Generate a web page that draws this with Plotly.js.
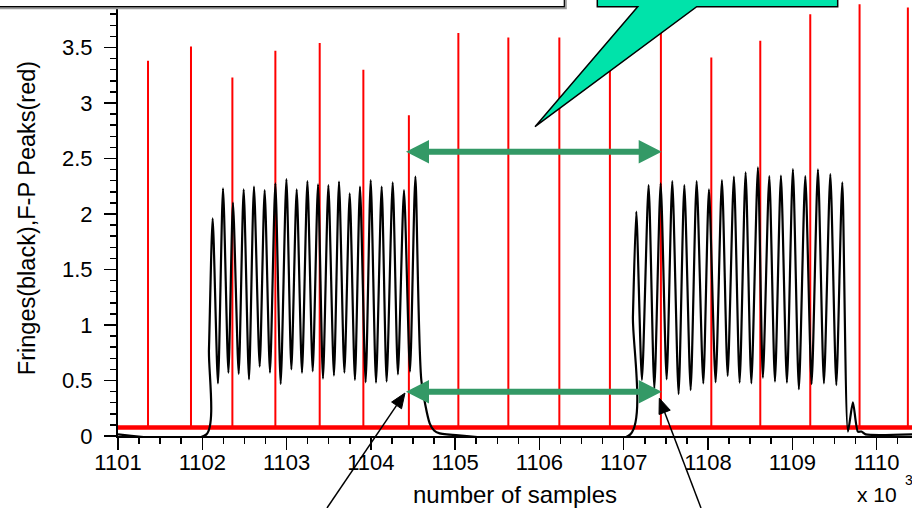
<!DOCTYPE html>
<html>
<head>
<meta charset="utf-8">
<script src="https://cdn.plot.ly/plotly-3.0.1.min.js"></script>
<style>
  html, body { margin: 0; padding: 0; background: #ffffff; }
  #chart { width: 912px; height: 508px; }
</style>
</head>
<body>
<div id="chart"></div>
<script>
// ---------- DATA (x in thousands of samples) ----------
const peakX = [1101.356, 1101.866, 1102.357, 1102.867, 1103.393, 1103.911, 1104.451,
               1105.038, 1105.631, 1106.236, 1106.836, 1107.441, 1108.039, 1108.620,
               1109.213, 1109.798, 1110.371];
const peakH = [3.38, 3.51, 3.23, 3.47, 3.54, 3.30, 2.89,
               3.63, 3.59, 3.59, 3.55, 3.75, 3.41, 3.56,
               3.80, 3.89, 3.86];
const redBaseline = 0.077;

const fringeX = [
  1101.000, 1102.049, 1102.079,
  1102.123, 1102.186, 1102.246, 1102.310, 1102.364, 1102.432, 1102.491, 1102.554,
  1102.613, 1102.681, 1102.740, 1102.803, 1102.867, 1102.930, 1102.998, 1103.057,
  1103.120, 1103.183, 1103.247, 1103.310, 1103.373, 1103.432, 1103.496, 1103.562,
  1103.622, 1103.686, 1103.749, 1103.811, 1103.871, 1103.938, 1103.998, 1104.061,
  1104.128, 1104.187, 1104.259, 1104.321, 1104.393, 1104.464, 1104.528,
  1104.599, 1104.698, 1104.750, 1104.816, 1104.900,
  1107.078, 1107.109,
  1107.149, 1107.216, 1107.295, 1107.363, 1107.438, 1107.509, 1107.576, 1107.651,
  1107.719, 1107.794, 1107.865, 1107.944, 1108.011, 1108.090, 1108.165, 1108.233,
  1108.307, 1108.375, 1108.446, 1108.514, 1108.592, 1108.651, 1108.727, 1108.794,
  1108.865, 1108.936, 1109.007, 1109.078, 1109.154, 1109.229, 1109.304, 1109.375,
  1109.451, 1109.522, 1109.593,
  1109.660, 1109.719, 1109.778, 1109.820, 1109.870, 1110.420
];
const fringeY = [
  0.015, 0.015, 0.775,
  1.961, 0.474, 2.231, 0.570, 2.102, 0.559, 2.222, 0.511,
  2.246, 0.625, 2.216, 0.570, 2.276, 0.468, 2.315, 0.601,
  2.222, 0.570, 2.297, 0.583, 2.267, 0.517, 2.261, 0.544,
  2.291, 0.570, 2.186, 0.505, 2.246, 0.484, 2.306, 0.481,
  2.246, 0.490, 2.285, 0.556, 2.216, 0.580, 2.336,
  0.500, 0.114, 0.050, 0.024, 0.015,
  0.015, 1.075,
  2.021, 0.505, 2.261, 0.430, 2.276, 0.511, 2.297, 0.378,
  2.261, 0.414, 2.297, 0.474, 2.222, 0.484, 2.306, 0.541,
  2.336, 0.481, 2.375, 0.474, 2.420, 0.525, 2.342, 0.490,
  2.345, 0.481, 2.405, 0.421, 2.342, 0.468, 2.402, 0.474,
  2.360, 0.459, 2.285,
  0.039, 0.303, 0.039, 0.040, 0.015, 0.015
];

const xTickVals = [1101, 1102, 1103, 1104, 1105, 1106, 1107, 1108, 1109, 1110];
const yTickVals = [0, 0.5, 1, 1.5, 2, 2.5, 3, 3.5];

// ---------- TRACES ----------
const spikeX = [], spikeY = [];
peakX.forEach((x, i) => { spikeX.push(x, x, null); spikeY.push(redBaseline, peakH[i], null); });

const baseTrace = {
  x: [1101, 1110.42], y: [redBaseline, redBaseline],
  mode: 'lines', line: { color: '#ff0000', width: 4.5 }, hoverinfo: 'skip', showlegend: false
};
const spikeTrace = {
  x: spikeX, y: spikeY, mode: 'lines', connectgaps: false,
  line: { color: '#ff0000', width: 2 }, showlegend: false
};
const fringeTrace = {
  x: fringeX, y: fringeY, mode: 'lines',
  line: { color: '#000000', width: 2.2, shape: 'spline', smoothing: 0.65 }, showlegend: false
};

// ---------- DECORATION (pixel -> paper helpers) ----------
const L = 118, W = 794, T = 0, H = 436;
const P = px => (px - L) / W;
const Q = py => (T + H - py) / H;
const pathOf = pts => 'M' + pts.map(p => P(p[0]).toFixed(5) + ',' + Q(p[1]).toFixed(5)).join(' L') + ' Z';

function doubleArrow(xl, xr, y, head, half, shaft) {
  return pathOf([
    [xl, y], [xl + head, y - half], [xl + head, y - shaft], [xr - head, y - shaft],
    [xr - head, y - half], [xr, y], [xr - head, y + half], [xr - head, y + shaft],
    [xl + head, y + shaft], [xl + head, y + half]
  ]);
}
function blackArrow(tail, tip, len, halfw) {
  const dx = tip[0] - tail[0], dy = tip[1] - tail[1];
  const d = Math.hypot(dx, dy), ux = dx / d, uy = dy / d;
  const bx = tip[0] - len * ux, by = tip[1] - len * uy;
  const nx = -uy, ny = ux;
  return [
    { type: 'line', xref: 'paper', yref: 'paper', layer: 'above',
      x0: P(tail[0]), y0: Q(tail[1]), x1: P(bx), y1: Q(by), line: { color: '#000', width: 1.5 } },
    { type: 'path', xref: 'paper', yref: 'paper', layer: 'above',
      path: pathOf([tip, [bx + halfw * nx, by + halfw * ny], [bx - halfw * nx, by - halfw * ny]]),
      fillcolor: '#000', line: { color: '#000', width: 1 } }
  ];
}

const shapes = [
  // empty text box (top-left) with shadow
  { type: 'rect', xref: 'paper', yref: 'paper', layer: 'above',
    x0: P(-10), y0: Q(-20), x1: P(566.8), y1: Q(9.2), fillcolor: '#9a9a9a', line: { width: 0 } },
  { type: 'rect', xref: 'paper', yref: 'paper', layer: 'above',
    x0: P(-10), y0: Q(-20), x1: P(564.3), y1: Q(6.7), fillcolor: '#ffffff', line: { color: '#000', width: 1.2 } },
  // green callout
  { type: 'path', xref: 'paper', yref: 'paper', layer: 'above',
    path: pathOf([[597.3, -20], [597.3, 6.7], [637.7, 6.7], [535, 126.7], [696.7, 6.7], [837.7, 6.7], [837.7, -20]]),
    fillcolor: 'rgb(0,227,170)', line: { color: '#000', width: 1.5 } },
  // green double arrows
  { type: 'path', xref: 'paper', yref: 'paper', layer: 'above',
    path: doubleArrow(406, 661.7, 151.7, 23, 11.7, 3), fillcolor: '#339966', line: { width: 0 } },
  { type: 'path', xref: 'paper', yref: 'paper', layer: 'above',
    path: doubleArrow(406, 661.7, 391.7, 23, 11.7, 3), fillcolor: '#339966', line: { width: 0 } }
].concat(blackArrow([327, 508], [405, 393], 15, 6))
 .concat(blackArrow([701, 508], [659.3, 398.3], 15, 6));

const FONT = 'Liberation Sans, Arial, sans-serif';

const layout = {
  width: 912, height: 508,
  margin: { l: 118, r: 0, t: 0, b: 72, pad: 0 },
  paper_bgcolor: '#ffffff', plot_bgcolor: '#ffffff',
  font: { family: FONT, color: '#000', size: 22 },
  showlegend: false,
  xaxis: {
    range: [1101, 1110.42], tickvals: xTickVals, ticktext: xTickVals.map(String),
    ticks: 'outside', ticklen: 12, tickwidth: 1.5, tickcolor: '#000',
    minor: { dtick: 0.25, tick0: 1101, ticks: 'outside', ticklen: 6, tickwidth: 1.5, tickcolor: '#000', showgrid: false },
    showline: true, linecolor: '#000', linewidth: 2, showgrid: false, zeroline: false,
    tickfont: { family: FONT, size: 22, color: '#000' },
    ticklabelstandoff: -6,
    title: { text: 'number of samples', font: { family: FONT, size: 24, color: '#000' }, standoff: 12 }
  },
  yaxis: {
    range: [0, 3.928], tickvals: yTickVals, ticktext: yTickVals.map(String),
    ticks: 'outside', ticklen: 12, tickwidth: 1.5, tickcolor: '#000',
    minor: { dtick: 0.1, tick0: 0, ticks: 'outside', ticklen: 6, tickwidth: 1.5, tickcolor: '#000', showgrid: false },
    showline: true, linecolor: '#000', linewidth: 2, showgrid: false, zeroline: false,
    tickfont: { family: FONT, size: 22, color: '#000' },
    ticklabelstandoff: 7,
    title: { text: 'Fringes(black),F-P Peaks(red)', font: { family: FONT, size: 23.5, color: '#000' }, standoff: 20 }
  },
  shapes: shapes,
  annotations: [
    { xref: 'paper', yref: 'paper', x: P(877), y: Q(495), text: 'x 10', showarrow: false,
      xanchor: 'center', yanchor: 'middle', font: { family: FONT, size: 21, color: '#000' } },
    { xref: 'paper', yref: 'paper', x: P(903), y: Q(480), text: '3', showarrow: false,
      xanchor: 'left', yanchor: 'middle', font: { family: FONT, size: 14, color: '#000' } }
  ]
};

Plotly.newPlot('chart', [baseTrace, spikeTrace, fringeTrace], layout, { staticPlot: true, displayModeBar: false });
</script>
</body>
</html>
